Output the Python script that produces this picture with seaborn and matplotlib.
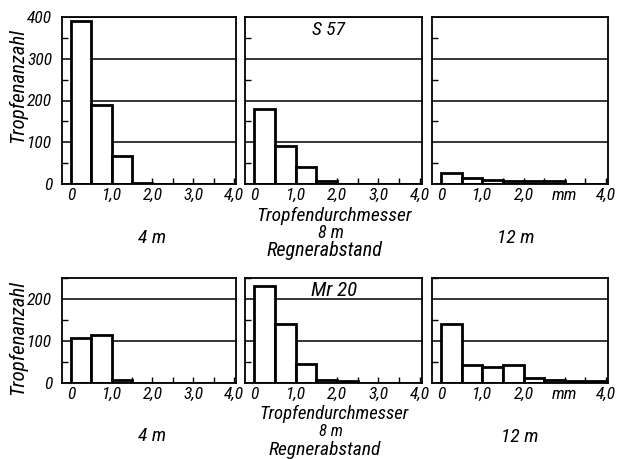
import numpy as np
import pandas as pd
import matplotlib
matplotlib.use("Agg")
import matplotlib.pyplot as plt
import seaborn as sns
from matplotlib.ticker import MultipleLocator

# ---- data ----
bin_edges = [0.0, 0.5, 1.0, 1.5, 2.0, 2.5, 3.0, 3.5, 4.0]
s57_4m = [390, 190, 66, 2, 0, 0, 0, 0]
s57_8m = [179, 91, 41, 8, 0, 0, 0, 0]
s57_12m = [26, 15, 9, 7, 7, 7, 0, 0]
mr20_4m = [108, 114, 6, 0, 0, 0, 0, 0]
mr20_8m = [230, 140, 45, 6, 5, 0, 0, 0]
mr20_12m = [141, 44, 37, 42, 13, 8, 5, 5]
spacings = ["4 m", "8 m", "12 m"]
x_ticks = [0, 1, 2, 3, 4]
x_labels = ["0", "1,0", "2,0", "3,0", "4,0"]
x_labels_right = ["0", "1,0", "2,0", "mm", "4,0"]
top_yticks = [0, 100, 200, 300, 400]
bot_yticks = [0, 100, 200]

sns.set_style("white")
plt.rcParams['font.family'] = ['DejaVu Sans Condensed', 'Roboto Condensed',
                               'Liberation Sans Narrow', 'DejaVu Sans']
plt.rcParams['font.style'] = 'italic'
plt.rcParams['font.stretch'] = 'condensed'
for k in ['text.color', 'axes.labelcolor', 'xtick.color', 'ytick.color']:
    plt.rcParams[k] = 'black'

W, H = 620, 459
fig = plt.figure(figsize=(6.2, 4.59), dpi=100)

def ax_px(l, t, r, b):
    return fig.add_axes([l / W, 1 - b / H, (r - l) / W, (b - t) / H])

cols = [(62, 236), (245, 422), (432, 608)]
rows = [(17, 184, 400, top_yticks, [s57_4m, s57_8m, s57_12m]),
        (278, 383, 250, bot_yticks, [mr20_4m, mr20_8m, mr20_12m])]

centers = [(a + b) / 2 for a, b in zip(bin_edges[:-1], bin_edges[1:])]

for ri, (t, b, ytop, yt, series) in enumerate(rows):
    for ci, (l, r) in enumerate(cols):
        ax = ax_px(l, t, r, b)
        df = pd.DataFrame({"d": centers, "n": series[ci]})
        sns.histplot(data=df, x="d", weights="n", bins=bin_edges, ax=ax,
                     color="white", edgecolor="black", linewidth=2.0, alpha=1)
        for p in list(ax.patches):
            if p.get_height() == 0:
                p.remove()
        ax.set_xlim(-0.22, 4.05)
        ax.set_ylim(0, ytop)
        ax.set_yticks(yt)
        ax.yaxis.set_minor_locator(MultipleLocator(50))
        ax.set_xticks(x_ticks)
        ax.xaxis.set_minor_locator(MultipleLocator(0.5))
        ax.set_xticklabels(x_labels_right if ci == 2 else x_labels,
                           fontsize=12.5)
        if ci == 0:
            ax.set_yticklabels([str(v) for v in yt], fontsize=12.5)
        else:
            ax.set_yticklabels([])
        ax.tick_params(axis="y", which="major", length=0, pad=7)
        ax.tick_params(axis="y", which="minor", direction="in", length=4,
                       width=1, color="black", left=True)
        ax.tick_params(axis="x", which="both", direction="in", length=4,
                       width=1, color="black", bottom=True, pad=3)
        ax.grid(axis="y", which="major", color="black", linewidth=1.1)
        ax.set_axisbelow(True)
        for s in ax.spines.values():
            s.set_color("black")
            s.set_linewidth(1.3)
        ax.set_xlabel("")
        ax.set_ylabel("")

def ftxt(x, y, s, size=14, rot=0):
    fig.text(x / W, 1 - y / H, s, ha="center", va="center", fontsize=size,
             style="italic", rotation=rot)

# y labels
ftxt(18, 86, "Tropfenanzahl", size=15, rot=90)
ftxt(18, 338, "Tropfenanzahl", size=15, rot=90)

# panel labels
ftxt(329, 30, "S 57", size=14)
ftxt(334, 290, "Mr 20", size=15)

# top row texts
ftxt(334, 216, "Tropfendurchmesser", size=14)
ftxt(152, 238, "4 m")
ftxt(331, 233, "8 m", size=13)
ftxt(325, 250, "Regnerabstand", size=14.5)
ftxt(516, 238, "12 m")

# bottom row texts
ftxt(334, 414, "Tropfendurchmesser", size=13.5)
ftxt(152, 436, "4 m")
ftxt(331, 432, "8 m", size=12)
ftxt(325, 450, "Regnerabstand", size=14)
ftxt(520, 437, "12 m")

fig.savefig("out.png", dpi=100)
